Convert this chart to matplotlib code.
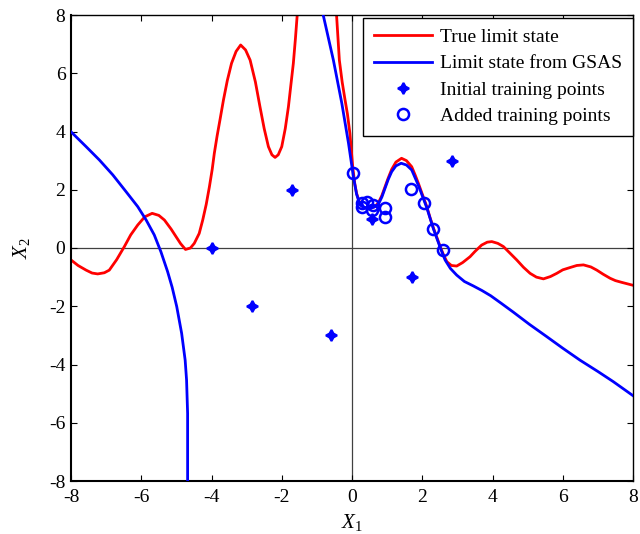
import matplotlib
matplotlib.use("Agg")
import matplotlib.pyplot as plt
import numpy as np

plt.rcParams['font.family'] = ['Liberation Serif', 'DejaVu Serif']
plt.rcParams['mathtext.fontset'] = 'custom'
plt.rcParams['mathtext.rm'] = 'Liberation Serif'
plt.rcParams['mathtext.it'] = 'Liberation Serif:italic'
plt.rcParams['axes.unicode_minus'] = False

# True limit state (red), two branches
true_left_x = [-8.0, -7.8, -7.57, -7.4, -7.24, -7.05, -6.91, -6.7, -6.48, -6.3, -6.10, -5.9, -5.69, -5.5,
               -5.34, -5.15, -5.01, -4.88, -4.74, -4.6, -4.49, -4.35, -4.25, -4.15, -4.06, -3.98, -3.92,
               -3.84, -3.76, -3.66, -3.55, -3.43, -3.3, -3.17, -3.03, -2.90, -2.75, -2.62, -2.5, -2.38,
               -2.28, -2.19, -2.1, -2.0, -1.9, -1.81, -1.74, -1.67, -1.61, -1.56, -1.52]
true_left_y = [-0.41, -0.6, -0.76, -0.86, -0.89, -0.85, -0.76, -0.4, 0.05, 0.45, 0.79, 1.07, 1.19, 1.12,
               0.96, 0.65, 0.39, 0.15, -0.05, 0.0, 0.16, 0.5, 0.96, 1.5, 2.1, 2.7, 3.25,
               3.85, 4.39, 5.08, 5.75, 6.34, 6.75, 6.97, 6.8, 6.45, 5.7, 4.85, 4.1, 3.48,
               3.2, 3.11, 3.2, 3.48, 4.1, 4.85, 5.6, 6.34, 7.2, 8.0, 8.6]

true_right_x = [-0.47, -0.44, -0.36, -0.28, -0.2, -0.13, -0.06, 0.02, 0.08, 0.13, 0.23, 0.35, 0.51, 0.65,
                0.75, 0.85, 0.94, 1.03, 1.13, 1.25, 1.41, 1.55, 1.70, 1.80, 1.89, 2.0, 2.13, 2.22, 2.32,
                2.42, 2.51, 2.60, 2.70, 2.83, 2.98, 3.15, 3.36, 3.5, 3.69, 3.85, 3.98, 4.15, 4.31, 4.5,
                4.69, 4.88, 5.07, 5.25, 5.45, 5.65, 5.83, 6.0, 6.21, 6.4, 6.59, 6.8, 6.97, 7.15, 7.35,
                7.5, 7.68, 8.0]
true_right_y = [8.6, 8.0, 6.45, 5.7, 5.1, 4.6, 3.94, 2.79, 2.2, 1.88, 1.5, 1.38, 1.36, 1.42,
                1.55, 1.8, 2.1, 2.4, 2.7, 2.95, 3.08, 3.0, 2.79, 2.5, 2.22, 1.85, 1.42, 1.05, 0.68,
                0.35, 0.05, -0.22, -0.47, -0.6, -0.62, -0.5, -0.30, -0.12, 0.10, 0.2, 0.22, 0.16, 0.05, -0.18,
                -0.41, -0.66, -0.87, -1.0, -1.06, -0.98, -0.87, -0.75, -0.67, -0.6, -0.58, -0.65, -0.76, -0.9, -1.04,
                -1.12, -1.18, -1.28]

# Limit state from GSAS (blue), two branches
gsas_left_x = [-8.0, -7.57, -7.19, -6.81, -6.43, -6.10, -5.86, -5.63, -5.44, -5.25, -5.12, -4.99,
               -4.85, -4.75, -4.71, -4.68, -4.68]
gsas_left_y = [3.99, 3.48, 3.02, 2.51, 1.93, 1.42, 0.96, 0.45, -0.13, -0.81, -1.35, -2.01,
               -2.93, -3.85, -4.53, -5.68, -8.2]

gsas_right_x = [-0.86, -0.82, -0.53, -0.29, -0.1, 0.04, 0.13, 0.23, 0.35, 0.5, 0.62, 0.75, 0.85, 0.94,
                1.03, 1.13, 1.25, 1.40, 1.55, 1.70, 1.89, 2.13, 2.32, 2.51, 2.65, 2.8, 2.98, 3.2, 3.45,
                3.7, 3.95, 4.25, 4.59, 5.05, 5.54, 6.0, 6.49, 7.0, 7.44, 8.0]
gsas_right_y = [8.6, 8.0, 6.45, 4.97, 3.6, 2.45, 1.85, 1.48, 1.38, 1.36, 1.4, 1.5, 1.75, 2.05,
                2.35, 2.62, 2.82, 2.91, 2.85, 2.68, 2.15, 1.38, 0.65, 0.02, -0.41, -0.7, -0.93, -1.15, -1.3,
                -1.46, -1.64, -1.9, -2.2, -2.62, -3.04, -3.44, -3.85, -4.24, -4.59, -5.07]

init_x = [-4.0, -1.7, -2.85, -0.6, 2.85, 1.7, 0.56]
init_y = [0.0, 2.0, -2.0, -3.0, 3.0, -1.0, 1.0]

added_x = [0.02, 0.28, 0.42, 0.28, 0.61, 0.56, 0.94, 0.94, 1.68, 2.06, 2.32, 2.58]
added_y = [2.57, 1.56, 1.59, 1.42, 1.48, 1.30, 1.36, 1.08, 2.03, 1.53, 0.64, -0.07]

fig = plt.figure(figsize=(6.4, 5.34), dpi=100)
ax = fig.add_axes([71/640, 1 - 481/534, (633-71)/640, (481-15)/534])

ax.axhline(0, color='0.25', lw=0.9, zorder=1)
ax.axvline(0, color='0.25', lw=0.9, zorder=1)

red = '#ff0000'
blue = '#0000ff'
ax.plot(true_left_x, true_left_y, color=red, lw=2.0, label='True limit state', zorder=2)
ax.plot(true_right_x, true_right_y, color=red, lw=2.0, zorder=2)
ax.plot(gsas_left_x, gsas_left_y, color=blue, lw=2.0, label='Limit state from GSAS', zorder=3)
ax.plot(gsas_right_x, gsas_right_y, color=blue, lw=2.0, zorder=3)
ax.plot(init_x, init_y, linestyle='none', marker=(4, 1, 0), markersize=8, color=blue,
        markeredgewidth=1.5, label='Initial training points', zorder=4)
ax.plot(added_x, added_y, linestyle='none', marker='o', markersize=8, markerfacecolor='none',
        markeredgecolor=blue, markeredgewidth=1.8, label='Added training points', zorder=4)

ax.set_xlim(-8, 8)
ax.set_ylim(-8, 8)
ax.set_xticks(np.arange(-8, 9, 2))
ax.set_yticks(np.arange(-8, 9, 2))
ax.tick_params(direction='in', top=True, right=True, length=4, width=0.8, labelsize=14)
ax.tick_params(axis='x', pad=6)
ax.tick_params(axis='y', pad=4)
for s in ax.spines.values():
    s.set_linewidth(1.0)
ax.spines['left'].set_linewidth(1.5)
ax.spines['bottom'].set_linewidth(1.5)

ax.set_xlabel(r'$X_1$', fontsize=15, labelpad=4)
ax.set_ylabel(r'$X_2$', fontsize=15, labelpad=12)

leg = ax.legend(loc='upper right', bbox_to_anchor=(1.0, 0.994), fontsize=14, frameon=True,
                fancybox=False, framealpha=1, edgecolor='black', handlelength=3.0,
                handletextpad=0.4, labelspacing=0.45, borderpad=0.55, borderaxespad=0.0)
leg.get_frame().set_linewidth(1.0)

fig.savefig('out.png', dpi=100)
